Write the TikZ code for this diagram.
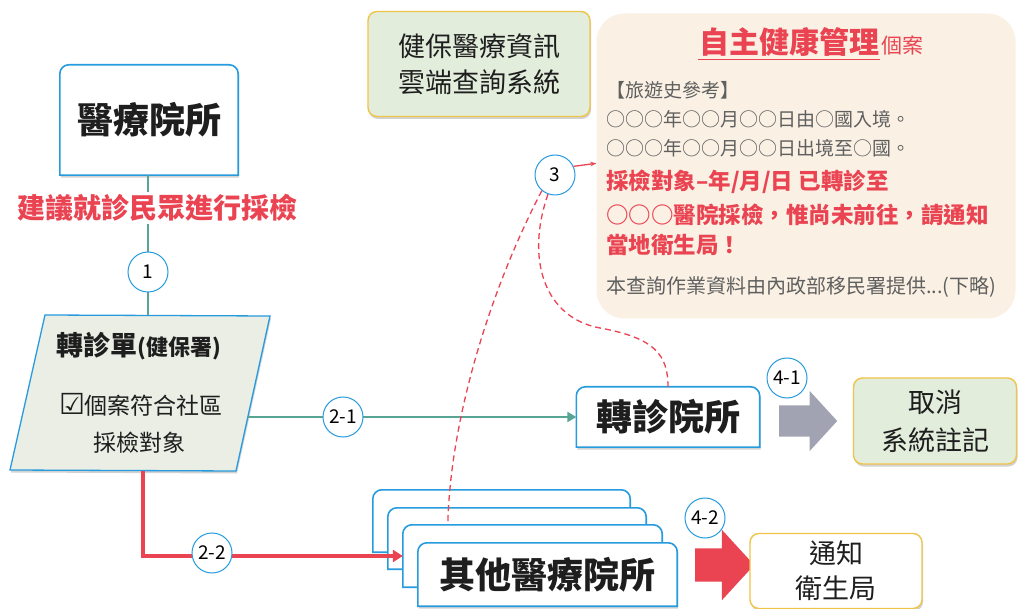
\documentclass[tikz,border=0pt]{standalone}
\usepackage{fontspec}
\setmainfont{Noto Sans CJK TC}
\newfontfamily\symfont{DejaVu Sans}
\usepackage{xcolor}
\usetikzlibrary{arrows.meta,shapes.arrows,shadows,backgrounds}

\definecolor{edgeblue}{RGB}{38,155,222}
\definecolor{lineteal}{RGB}{88,165,150}
\definecolor{hotred}{RGB}{234,68,82}
\definecolor{edgeyellow}{RGB}{240,196,72}
\definecolor{mintfill}{RGB}{226,237,220}
\definecolor{formfill}{RGB}{234,238,229}
\definecolor{notefill}{RGB}{250,241,228}
\definecolor{arrowgray}{RGB}{162,163,178}
\definecolor{inkgray}{RGB}{95,95,95}
\definecolor{ink}{RGB}{30,30,30}

\newcommand{\fsize}[2]{\fontsize{#1}{#2}\selectfont}
% box with only the top corners rounded
\newcommand{\tabshape}[2]{%
  \filldraw[#1] (#2.south west) -- ([yshift=-9pt]#2.north west)
    arc[start angle=180,end angle=90,radius=9pt] -- ([xshift=-9pt]#2.north east)
    arc[start angle=90,end angle=0,radius=9pt] -- (#2.south east) -- cycle;}

\begin{document}
\begin{tikzpicture}[x=1pt,y=-1pt,
    tab/.style={draw=edgeblue, line width=1.6pt, fill=white},
    softshadow/.style={drop shadow={shadow xshift=1pt, shadow yshift=-2.5pt, opacity=0.35}},
    tabtext/.style={inner sep=0pt, text=ink, font=\fsize{36}{40}\bfseries},
    plate/.style={draw=edgeyellow, line width=1.4pt, rounded corners=9pt, text=ink, align=center, inner sep=0pt},
    stepmark/.style={circle, draw=edgeblue, line width=1pt, fill=white, minimum size=40pt, inner sep=0pt, font=\fsize{19}{19}},
    blockarrow/.style={single arrow, inner sep=0pt, single arrow tip angle=95},
    tealflow/.style={draw=lineteal, line width=2.6pt},
    redflow/.style={draw=hotred, line width=3.2pt},
    hint/.style={draw=hotred, line width=1.3pt, dash pattern=on 6pt off 4pt},
    notetext/.style={anchor=west, inner sep=0pt, text=inkgray, font=\fsize{19}{19}},
    alerttext/.style={anchor=west, inner sep=0pt, text=hotred, font=\fsize{22.5}{22.5}\bfseries}]

  % Page
  \begin{pgfonlayer}{background}
    \fill[white] (0,0) rectangle (1023,609);
  \end{pgfonlayer}
  \useasboundingbox (0,0) rectangle (1023,609);

  % Hospital and advice
  \node[tabtext, minimum width=178pt, minimum height=110pt] (hosp) at (149,120) {醫療院所};
  \begin{pgfonlayer}{background}
    \tabshape{tab, softshadow}{hosp}
  \end{pgfonlayer}
  \node[inner sep=2pt, fill=white, text=hotred, font=\fsize{28}{28}\bfseries] (advice) at (157,208) {建議就診民眾進行採檢};

  % Referral form (parallelogram)
  \coordinate (fNW) at (45,315);
  \coordinate (fNE) at (270,316);
  \coordinate (fSE) at (236,471);
  \coordinate (fSW) at (10,470);
  \filldraw[draw=edgeblue, line width=1.3pt, fill=formfill, softshadow] (fNW) -- (fNE) -- (fSE) -- (fSW) -- cycle;
  \node[inner sep=0pt, text=ink] (formtitle) at (139,346) {{\fsize{27}{27}\bfseries 轉診單}{\fsize{22}{22}\bfseries(健保署)}};
  \node[inner sep=0pt, text=ink, font=\fsize{23}{23}] (formcheck) at (141,405) {{\fsize{29}{29}\symfont ☑}個案符合社區};
  \node[inner sep=0pt, text=ink, font=\fsize{23}{23}] (formtarget) at (139,443) {採檢對象};
  \coordinate (formtop) at (148,315);
  \coordinate (formright) at (248,417);
  \coordinate (formbottom) at (143,471);

  % Cloud query system
  \node[plate, fill=mintfill, softshadow, minimum width=222pt, minimum height=105pt, font=\fsize{27}{36}] (cloud) at (479,64) {健保醫療資訊\\雲端查詢系統};

  % Query result note
  \node[fill=notefill, rounded corners=28pt, minimum width=419pt, minimum height=305pt, inner sep=0pt] (note) at (806,166) {};
  \node[inner sep=1pt, text=hotred, font=\fsize{30}{30}\bfseries] (ntitle) at (789,42) {自主健康管理};
  \node[anchor=base west, inner sep=1pt, text=hotred, font=\fsize{21}{21}] (ncase) at (ntitle.base east) {個案};
  \draw[hotred, line width=1.3pt] ([yshift=-2pt]ntitle.south west) -- ([yshift=-2pt]ntitle.south east);
  \node[notetext] (ntrip) at (606,90) {【旅遊史參考】};
  \node[notetext] (nin) at (606,119) {○○○年○○月○○日由○國入境。};
  \node[notetext] (nout) at (606,148) {○○○年○○月○○日出境至○國。};
  \node[alerttext] (nalertA) at (606,182) {採檢對象–年/月/日 已轉診至};
  \node[alerttext] (nalertB) at (606,215) {○○○醫院採檢，惟尚未前往，請通知};
  \node[alerttext] (nalertC) at (606,245) {當地衛生局！};
  \node[notetext, font=\fsize{20}{20}] (nsource) at (606,287) {本查詢作業資料由內政部移民署提供...(下略)};

  % Referral hospital
  \node[tabtext, minimum width=183pt, minimum height=60pt] (refh) at (668,417) {轉診院所};
  \begin{pgfonlayer}{background}
    \tabshape{tab, softshadow}{refh}
  \end{pgfonlayer}
  \node[blockarrow, fill=arrowgray, minimum height=58pt, single arrow head extend=14.5pt] (go41) at (801,421) {\rule{0pt}{31pt}};
  \node[plate, fill=mintfill, softshadow, minimum width=163pt, minimum height=86pt, font=\fsize{27}{38}] (cancel) at (935,421) {取消\\系統註記};

  % Other hospitals (stacked)
  \node[minimum width=257pt, minimum height=62pt] (lay1) at (501.5,521) {};
  \node[minimum width=258pt, minimum height=61pt] (lay2) at (517,538.5) {};
  \node[minimum width=259pt, minimum height=62pt] (lay3) at (532.5,556) {};
  \node[tabtext, minimum width=259pt, minimum height=63pt] (others) at (547.5,574.5) {其他醫療院所};
  \begin{pgfonlayer}{background}
    \tabshape{tab}{lay1}
    \tabshape{tab}{lay2}
    \tabshape{tab}{lay3}
    \tabshape{tab, softshadow}{others}
  \end{pgfonlayer}
  \node[blockarrow, fill=hotred, minimum height=59pt, single arrow head extend=18.5pt] (go42) at (717,565) {\rule{0pt}{33pt}};
  \node[draw=edgeyellow, line width=1.4pt, rounded corners=9pt, fill=white, softshadow, minimum width=172pt, minimum height=75pt, align=center, text=ink, font=\fsize{27}{35}] (notify) at (836,571) {通知\\衛生局};

  % Draw flows
  \draw[tealflow] (hosp.south -| formtop) -- (advice.north -| formtop);
  \draw[tealflow] (advice.south -| formtop) -- (formtop);
  \draw[tealflow, -{Triangle[length=9pt,width=10pt]}] (formright) -- (refh.west);
  \draw[redflow, -{Triangle[length=10pt,width=12pt]}] (formbottom) |- (lay3.west);

  % Draw query links
  \node[stepmark] (c3) at (555,175) {3};
  \draw[hint] (c3.230) .. controls (490,290) and (450,420) .. ([xshift=45pt]lay3.north west);
  \draw[hint] (c3.250) .. controls (525,260) and (545,318) .. (600,328) .. controls (655,338) and (668,355) .. (refh.north);
  \draw[hotred, line width=1.3pt, -{Stealth[length=6pt]}] (c3.25) -- ([yshift=3pt]c3.25 -| note.west);

  % Label steps
  \node[stepmark] (c1) at (148,272) {1};
  \node[stepmark] (c21) at (343,417) {2-1};
  \node[stepmark] (c22) at (212,553) {2-2};
  \node[stepmark] (c41) at (787,378) {4-1};
  \node[stepmark] (c42) at (705,518) {4-2};

\end{tikzpicture}
\end{document}
